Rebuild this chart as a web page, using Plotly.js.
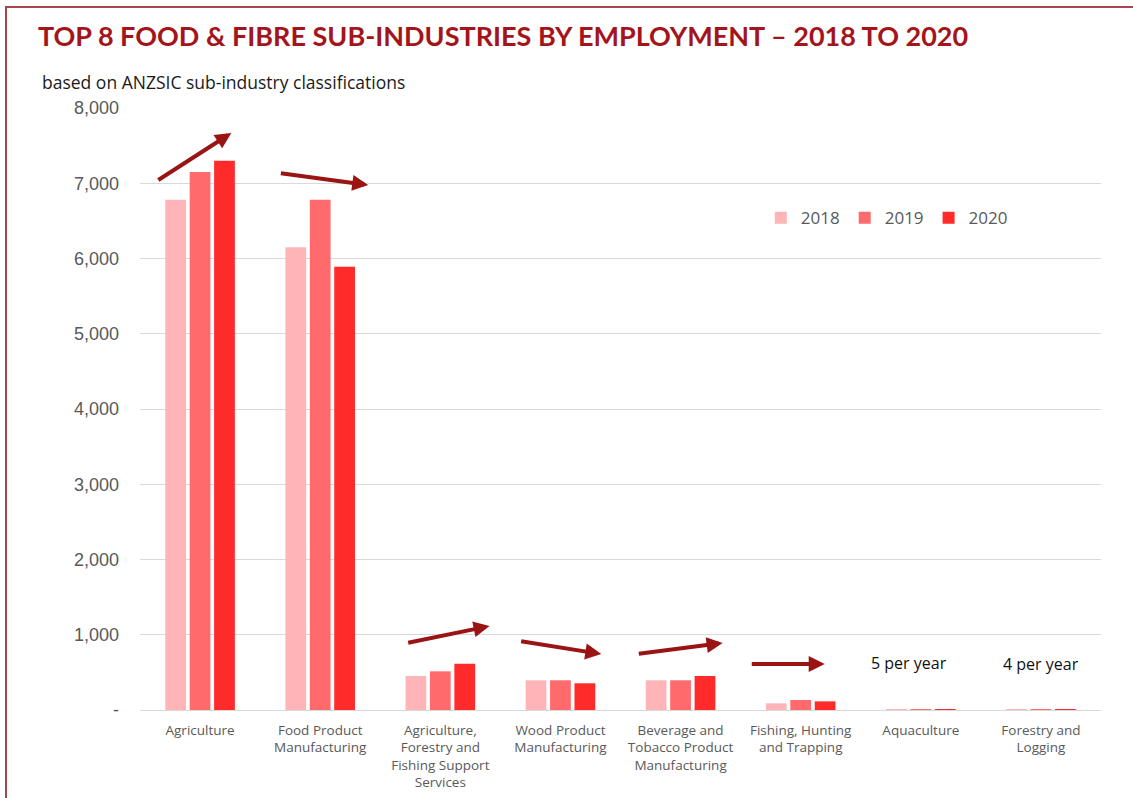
<!DOCTYPE html>
<html>
<head>
<meta charset="utf-8">
<script src="https://cdn.plot.ly/plotly-3.0.1.min.js"></script>
<style>
  html, body { margin: 0; padding: 0; background: #ffffff; }
  #chart { width: 1133px; height: 798px; }
</style>
</head>
<body>
<div id="chart"></div>
<script>
// ---- Data ----
const categories = [
  "Agriculture",
  "Food Product Manufacturing",
  "Agriculture, Forestry and Fishing Support Services",
  "Wood Product Manufacturing",
  "Beverage and Tobacco Product Manufacturing",
  "Fishing, Hunting and Trapping",
  "Aquaculture",
  "Forestry and Logging"
];
const tickLabels = [
  "Agriculture",
  "Food Product<br>Manufacturing",
  "Agriculture,<br>Forestry and<br>Fishing Support<br>Services",
  "Wood Product<br>Manufacturing",
  "Beverage and<br>Tobacco Product<br>Manufacturing",
  "Fishing, Hunting<br>and Trapping",
  "Aquaculture",
  "Forestry and<br>Logging"
];
const years = ["2018", "2019", "2020"];
const values2018 = [6780, 6150, 452, 395, 395, 89, 5, 4];
const values2019 = [7150, 6780, 514, 395, 395, 133, 5, 4];
const values2020 = [7300, 5890, 615, 355, 452, 115, 5, 4];
const yTickVals = [0, 1000, 2000, 3000, 4000, 5000, 6000, 7000, 8000];
const yTickText = ["-", "1,000", "2,000", "3,000", "4,000", "5,000", "6,000", "7,000", "8,000"];
const noteTexts = ["5 per year", "4 per year"];
const noteCategories = [6, 7];

// ---- Styles ----
const colors = ["#FFB5B8", "#FF6B6D", "#FF2B2B"];
const seriesValues = [values2018, values2019, values2020];

const traces = years.map((yr, i) => ({
  type: "bar",
  name: yr,
  x: categories,
  y: seriesValues[i],
  marker: { color: colors[i] },
  hoverinfo: "x+y+name"
}));

// Trend arrows: [tail index offset, tail value, head index offset, head value]
const arrowSpecs = [
  [-0.36, 7030, 0.26, 7668],
  [0.66, 7136, 1.40, 6977],
  [1.72, 890, 2.41, 1116],
  [2.66, 917, 3.34, 744],
  [3.64, 744, 4.35, 890],
  [4.58, 611, 5.20, 611]
];
const arrowAnnotations = arrowSpecs.map(a => ({
  x: a[2], y: a[3], ax: a[0], ay: a[1],
  xref: "x", yref: "y", axref: "x", ayref: "y",
  showarrow: true, arrowhead: 2, arrowsize: 0.8, arrowwidth: 4,
  arrowcolor: "#9B1414", text: ""
}));

const noteAnnotations = noteTexts.map((t, i) => ({
  x: noteCategories[i] - 0.1 + i * 0.1, y: 625 - i * 14,
  xref: "x", yref: "y", text: t, showarrow: false,
  font: { family: "Open Sans, sans-serif", size: 16, color: "#111111" }
}));

const layout = {
  width: 1133, height: 798,
  paper_bgcolor: "#ffffff", plot_bgcolor: "#ffffff",
  margin: { l: 140, r: 32, t: 108, b: 88 },
  barmode: "group",
  bargap: 0.39,
  bargroupgap: 0.15,
  showlegend: true,
  legend: {
    orientation: "h", x: 0.646, y: 0.817, xanchor: "left", yanchor: "middle",
    font: { family: "Open Sans, sans-serif", size: 17, color: "#595959" },
    bgcolor: "rgba(0,0,0,0)", itemwidth: 30, traceorder: "normal"
  },
  xaxis: {
    type: "category",
    tickmode: "array", tickvals: categories, ticktext: tickLabels,
    tickfont: { family: "Open Sans, sans-serif", size: 13.5, color: "#595959" },
    showgrid: false, zeroline: false, showline: false, ticks: "",
    ticklabelstandoff: 10,
    fixedrange: true
  },
  yaxis: {
    range: [0, 8000],
    tickmode: "array", tickvals: yTickVals, ticktext: yTickText,
    tickfont: { family: "Liberation Sans, Arial, sans-serif", size: 18, color: "#595959" },
    showgrid: true, gridcolor: "#D9D9D9", gridwidth: 1,
    zeroline: true, zerolinecolor: "#D9D9D9", zerolinewidth: 1,
    showline: false, ticks: "", ticklabelstandoff: 20,
    fixedrange: true
  },
  title: {
    text: "<b>TOP 8 FOOD &amp; FIBRE SUB-INDUSTRIES BY EMPLOYMENT – 2018 TO 2020</b>",
    x: 38 / 1133, xanchor: "left", xref: "container",
    y: 1 - 37 / 798, yanchor: "middle", yref: "container",
    font: { family: "Lato, sans-serif", size: 27, color: "#A3151A" }
  },
  annotations: [
    {
      text: "based on ANZSIC sub-industry classifications",
      xref: "paper", yref: "paper",
      x: (40 - 140) / 961, y: (710 - 82) / 602,
      xanchor: "left", yanchor: "middle", showarrow: false,
      font: { family: "Open Sans, sans-serif", size: 17.5, color: "#1a1a1a" }
    }
  ].concat(arrowAnnotations, noteAnnotations),
  shapes: [
    {
      type: "rect", xref: "paper", yref: "paper",
      x0: (6 - 140) / 961, x1: 1.2, y0: -0.3, y1: (710 - 7) / 602,
      line: { color: "#A8474A", width: 2 }, fillcolor: "rgba(0,0,0,0)"
    }
  ]
};

Plotly.newPlot("chart", traces, layout, { displayModeBar: false, responsive: false });
</script>
</body>
</html>
